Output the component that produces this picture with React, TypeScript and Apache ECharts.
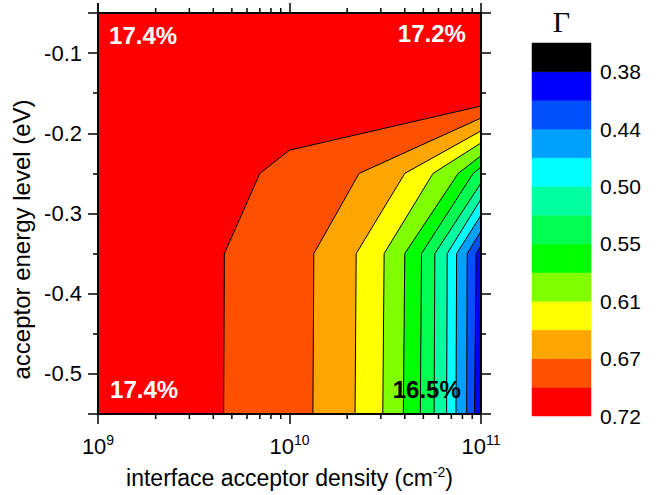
import React, { useEffect, useRef } from 'react';
import * as echarts from 'echarts';

// ---- data ----
const densityMin = 1e9;
const densityMax = 1e11;
const energyMin = -0.55;
const energyMax = -0.05;

// fill colours for the contour levels, from the highest Γ (red) to the lowest (black)
const levelColors = [
  '#FF0000', '#FF5000', '#FFA500', '#FFFF00', '#80FF00', '#00FF00',
  '#00FF50', '#00FFA0', '#00FFFF', '#00A0FF', '#0050FF', '#0000FF', '#000000',
];
// colour-bar tick labels, bottom to top (every second level boundary)
const gammaTickLabels = ['0.72', '0.67', '0.61', '0.55', '0.50', '0.44', '0.38'];

// contour boundaries as [acceptor density (cm^-2), acceptor energy level (eV)]
const contour1 = [[4.53e9, -0.55], [4.57e9, -0.35], [7.0e9, -0.25], [1.0e10, -0.221], [1e11, -0.166]];
const contour2 = [[1.325e10, -0.55], [1.34e10, -0.35], [2.31e10, -0.25], [1e11, -0.181]];
const contour3 = [[2.2e10, -0.55], [2.23e10, -0.35], [4.0e10, -0.25], [1e11, -0.197]];
const contour4 = [[3.07e10, -0.55], [3.12e10, -0.35], [5.62e10, -0.25], [1e11, -0.212]];
const contour5 = [[3.93e10, -0.55], [4.0e10, -0.35], [7.6e10, -0.25], [1e11, -0.228]];
const contour6 = [[4.82e10, -0.55], [4.89e10, -0.35], [9.1e10, -0.25], [1e11, -0.242]];
const contour7 = [[5.69e10, -0.55], [5.74e10, -0.35], [1e11, -0.262]];
const contour8 = [[6.61e10, -0.55], [6.66e10, -0.35], [1e11, -0.282]];
const contour9 = [[7.4e10, -0.55], [7.46e10, -0.35], [1e11, -0.302]];
const contour10 = [[8.41e10, -0.55], [8.47e10, -0.35], [1e11, -0.322]];
const contour11 = [[9.25e10, -0.55], [9.43e10, -0.35], [1e11, -0.34]];
const contours = [contour1, contour2, contour3, contour4, contour5, contour6,
  contour7, contour8, contour9, contour10, contour11];

// efficiency annotations
const noteTexts = ['17.4%', '17.2%', '17.4%', '16.5%'];
const noteDensity = [1.72e9, 5.54e10, 1.74e9, 5.21e10];
const noteEnergy = [-0.078, -0.076, -0.52, -0.52];
const noteColors = ['#FFFFFF', '#FFFFFF', '#FFFFFF', '#000000'];

// log-axis minor ticks
const xMinorTicks = [2e9, 3e9, 4e9, 5e9, 6e9, 7e9, 8e9, 9e9, 2e10, 3e10, 4e10, 5e10, 6e10, 7e10, 8e10, 9e10];

const SANS = 'Liberation Sans, Arial, sans-serif';

export default function App() {
  const ref = useRef<HTMLDivElement>(null);

  useEffect(() => {
    document.body.style.margin = '0';
    const chart = echarts.init(ref.current!, null, { renderer: 'svg' });

    const tickRich = {
      b: { fontSize: 22, fontFamily: SANS, color: '#000', lineHeight: 26 },
      s: { fontSize: 14, fontFamily: SANS, color: '#000', lineHeight: 10, verticalAlign: 'top' },
    };
    const nameRich = {
      b: { fontSize: 23, fontFamily: SANS, color: '#000', lineHeight: 26 },
      s: { fontSize: 14, fontFamily: SANS, color: '#000', lineHeight: 10, verticalAlign: 'top' },
    };

    const axisLine = { show: true, onZero: false, lineStyle: { color: '#000', width: 2 } };
    const tick = { show: true, length: 10, lineStyle: { color: '#000', width: 1.5 } };

    const option: any = {
      animation: false,
      grid: [
        { left: 98, top: 13, width: 383, height: 401, show: true, backgroundColor: '#FF0000', borderWidth: 0 },
        { left: 532, top: 43, width: 59, height: 373, show: false },
      ],
      xAxis: [
        {
          type: 'log', logBase: 10, min: densityMin, max: densityMax, gridIndex: 0, position: 'bottom', z: 10,
          axisLine, axisTick: tick, splitLine: { show: false }, minorTick: { show: false },
          axisLabel: {
            margin: 19,
            formatter: (v: number) => `{b|10}{s|${Math.round(Math.log10(v))}}`,
            rich: tickRich,
          },
          name: '{b|interface acceptor density (cm}{s|-2}{b|)}',
          nameLocation: 'middle', nameGap: 51,
          nameTextStyle: { rich: nameRich },
        },
        {
          type: 'log', logBase: 10, min: densityMin, max: densityMax, gridIndex: 0, position: 'top', z: 10,
          axisLine, axisTick: tick, splitLine: { show: false }, axisLabel: { show: false },
        },
        { type: 'value', gridIndex: 1, min: 0, max: 1, show: false },
      ],
      yAxis: [
        {
          type: 'value', min: energyMin, max: energyMax, splitNumber: 5, gridIndex: 0, position: 'left', z: 10,
          axisLine, axisTick: tick,
          minorTick: { show: true, splitNumber: 2, length: 5, lineStyle: { color: '#000', width: 1.5 } },
          splitLine: { show: false }, minorSplitLine: { show: false },
          axisLabel: {
            showMinLabel: false, showMaxLabel: false, margin: 16,
            fontSize: 22, fontFamily: SANS, color: '#000',
            formatter: (v: number) => v.toFixed(1),
          },
          name: 'acceptor energy level (eV)', nameLocation: 'middle', nameGap: 60,
          nameTextStyle: { fontSize: 24, fontFamily: SANS, color: '#000', padding: [0, 52, 0, 0] },
        },
        {
          type: 'value', min: energyMin, max: energyMax, splitNumber: 5, gridIndex: 0, position: 'right', z: 10,
          axisLine, axisTick: tick,
          minorTick: { show: true, splitNumber: 2, length: 5, lineStyle: { color: '#000', width: 1.5 } },
          splitLine: { show: false }, axisLabel: { show: false },
        },
        {
          type: 'value', gridIndex: 1, min: 0, max: 13, interval: 2, position: 'right',
          axisLine: { show: false }, axisTick: { show: false }, splitLine: { show: false },
          axisLabel: {
            margin: 9, fontSize: 21, fontFamily: SANS, color: '#000',
            formatter: (v: number) => (v % 2 === 0 && v / 2 < gammaTickLabels.length ? gammaTickLabels[v / 2] : ''),
          },
        },
      ],
      graphic: [
        {
          type: 'text', x: 561.5, y: 21, z: 20,
          style: { text: 'Γ', fontSize: 30, fontFamily: 'Liberation Serif, Times New Roman, serif', fill: '#000', align: 'center', verticalAlign: 'middle' },
        },
      ],
      series: [
        {
          type: 'custom', name: 'fills', xAxisIndex: 0, yAxisIndex: 0, clip: true, z: 2,
          data: contours.map((c, i) => [c[c.length - 1][0], c[c.length - 1][1], i]),
          renderItem: (params: any, api: any) => {
            const i = api.value(2);
            const pts = contours[i].map((p) => api.coord(p));
            const corner = api.coord([densityMax, energyMin]);
            return {
              type: 'polygon',
              shape: { points: [...pts, corner] },
              style: { fill: levelColors[i + 1], stroke: null },
            };
          },
        },
        {
          type: 'custom', name: 'lines', xAxisIndex: 0, yAxisIndex: 0, clip: true, z: 3,
          data: contours.map((c, i) => [c[0][0], c[0][1], i]),
          renderItem: (params: any, api: any) => {
            const i = api.value(2);
            const pts = contours[i].map((p) => api.coord(p));
            return {
              type: 'polyline',
              shape: { points: pts },
              style: { stroke: '#000', lineWidth: 1, fill: null },
            };
          },
        },
        {
          type: 'custom', name: 'notes', xAxisIndex: 0, yAxisIndex: 0, clip: false, z: 5,
          data: noteTexts.map((t, i) => [noteDensity[i], noteEnergy[i], i]),
          renderItem: (params: any, api: any) => {
            const i = api.value(2);
            const p = api.coord([api.value(0), api.value(1)]);
            return {
              type: 'text', x: p[0], y: p[1],
              style: {
                text: noteTexts[i], fill: noteColors[i], fontSize: 24, fontWeight: 'bold',
                fontFamily: SANS, align: 'center', verticalAlign: 'middle',
              },
            };
          },
        },
        {
          type: 'custom', name: 'minorTicks', xAxisIndex: 0, yAxisIndex: 0, clip: false, z: 12,
          data: xMinorTicks.map((v) => [v, energyMin]),
          renderItem: (params: any, api: any) => {
            const v = api.value(0);
            const b = api.coord([v, energyMin]);
            const t = api.coord([v, energyMax]);
            return {
              type: 'group',
              children: [
                { type: 'line', shape: { x1: b[0], y1: b[1], x2: b[0], y2: b[1] + 5 }, style: { stroke: '#000', lineWidth: 1.5 } },
                { type: 'line', shape: { x1: t[0], y1: t[1], x2: t[0], y2: t[1] - 5 }, style: { stroke: '#000', lineWidth: 1.5 } },
              ],
            };
          },
        },
        {
          type: 'custom', name: 'colorbar', xAxisIndex: 2, yAxisIndex: 2, clip: false,
          data: levelColors.map((c, i) => [0, i]),
          renderItem: (params: any, api: any) => {
            const i = api.value(1);
            const p0 = api.coord([0, i]);
            const p1 = api.coord([1, i + 1]);
            return {
              type: 'rect',
              shape: { x: p0[0], y: p1[1], width: p1[0] - p0[0], height: p0[1] - p1[1] },
              style: { fill: levelColors[i], stroke: levelColors[i], lineWidth: 0.5 },
            };
          },
        },
      ],
    };

    chart.setOption(option);
    return () => chart.dispose();
  }, []);

  return <div ref={ref} style={{ position: 'absolute', left: 0, top: 0, width: 666, height: 495 }} />;
}
